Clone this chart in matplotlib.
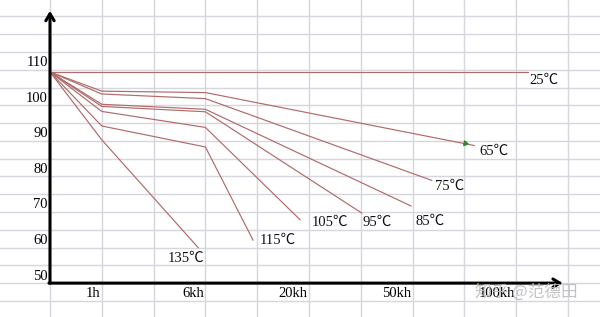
import matplotlib
matplotlib.use("Agg")
import matplotlib.pyplot as plt

# --- data (y in %, x in chart columns: 1h=1, 6kh=3, 20kh=5, 50kh=7, 100kh=9) ---
temps = ['25℃', '65℃', '75℃', '85℃', '95℃', '105℃', '115℃', '135℃']
start_val = 107.4
val_1h = [107.4, 102.0, 101.2, 98.3, 97.7, 96.3, 92.2, 88.3]
val_6kh = [107.4, 101.6, 99.9, 96.9, 96.2, 91.8, 86.3, None]
end_x = [9.23, 8.19, 7.37, 6.97, 6.02, 4.83, 3.92, 2.86]
end_val = [107.4, 86.7, 76.9, 69.7, 67.7, 65.8, 60.1, 58.0]

y_ticks = [50, 60, 70, 80, 90, 100, 110]
x_pos = [1, 3, 5, 7, 9]
x_labels = ['1h', '6kh', '20kh', '50kh', '100kh']

# label anchors for the temperature names
label_x = [9.25, 8.28, 7.43, 7.05, 6.04, 5.06, 4.05, 2.28]
label_y = [105.1, 85.2, 75.1, 65.3, 65.2, 65.2, 59.9, 55.1]

LINE_COLOR = '#b06a6a'
GRID_COLOR = '#d6d6de'
FONT = ['Liberation Serif', 'Noto Sans CJK SC']

fig = plt.figure(figsize=(6.0, 3.17), dpi=100)
ax = fig.add_axes([0, 0, 1, 1])
ax.set_xlim(-0.965, 10.618)
ax.set_ylim(38.47, 127.64)
ax.axis('off')

# spreadsheet grid
for c in range(0, 11):
    ax.axvline(c, color=GRID_COLOR, lw=1.0, zorder=0)
for r in range(43, 128, 5):
    ax.axhline(r, color=GRID_COLOR, lw=1.0, zorder=0)

# curves
for i, t in enumerate(temps):
    if t == '25℃':
        xs, ys = [0, end_x[i]], [start_val, end_val[i]]
    else:
        xs = [0, 1]
        ys = [start_val, val_1h[i]]
        if val_6kh[i] is not None:
            xs.append(3)
            ys.append(val_6kh[i])
        xs.append(end_x[i])
        ys.append(end_val[i])
    ax.plot(xs, ys, color=LINE_COLOR, lw=0.85, zorder=2)
    ax.text(label_x[i], label_y[i], t, ha='left', va='center',
            fontsize=10.5, family=FONT, color='#111111')

# small green mark on the 65C line
ax.plot([8.01], [87.4], marker=(3, 0, 20), color='#2e8b2e', ms=4, zorder=3)

# axes with arrows
ax.annotate('', xy=(0, 124.6), xytext=(0, 48), zorder=4,
            arrowprops=dict(arrowstyle='->,head_length=0.5,head_width=0.3',
                            color='black', lw=2.2, shrinkA=0, shrinkB=0))
ax.annotate('', xy=(9.9, 48), xytext=(-0.02, 48), zorder=4,
            arrowprops=dict(arrowstyle='->,head_length=0.5,head_width=0.3',
                            color='black', lw=2.2, shrinkA=0, shrinkB=0))

for v in y_ticks:
    ax.text(-0.04, v, str(v), ha='right', va='center', fontsize=10.5, family=FONT)
for p, lab in zip(x_pos, x_labels):
    ax.text(p - 0.03, 45.1, lab, ha='right', va='center', fontsize=10.5, family=FONT)

# watermark
ax.text(8.2, 45.5, '知乎 @范德田', ha='left', va='center', fontsize=12,
        family=['Noto Sans CJK SC', 'DejaVu Sans'], color='#bcbcbc', alpha=0.9, zorder=5)

fig.savefig('out.png', dpi=100)
